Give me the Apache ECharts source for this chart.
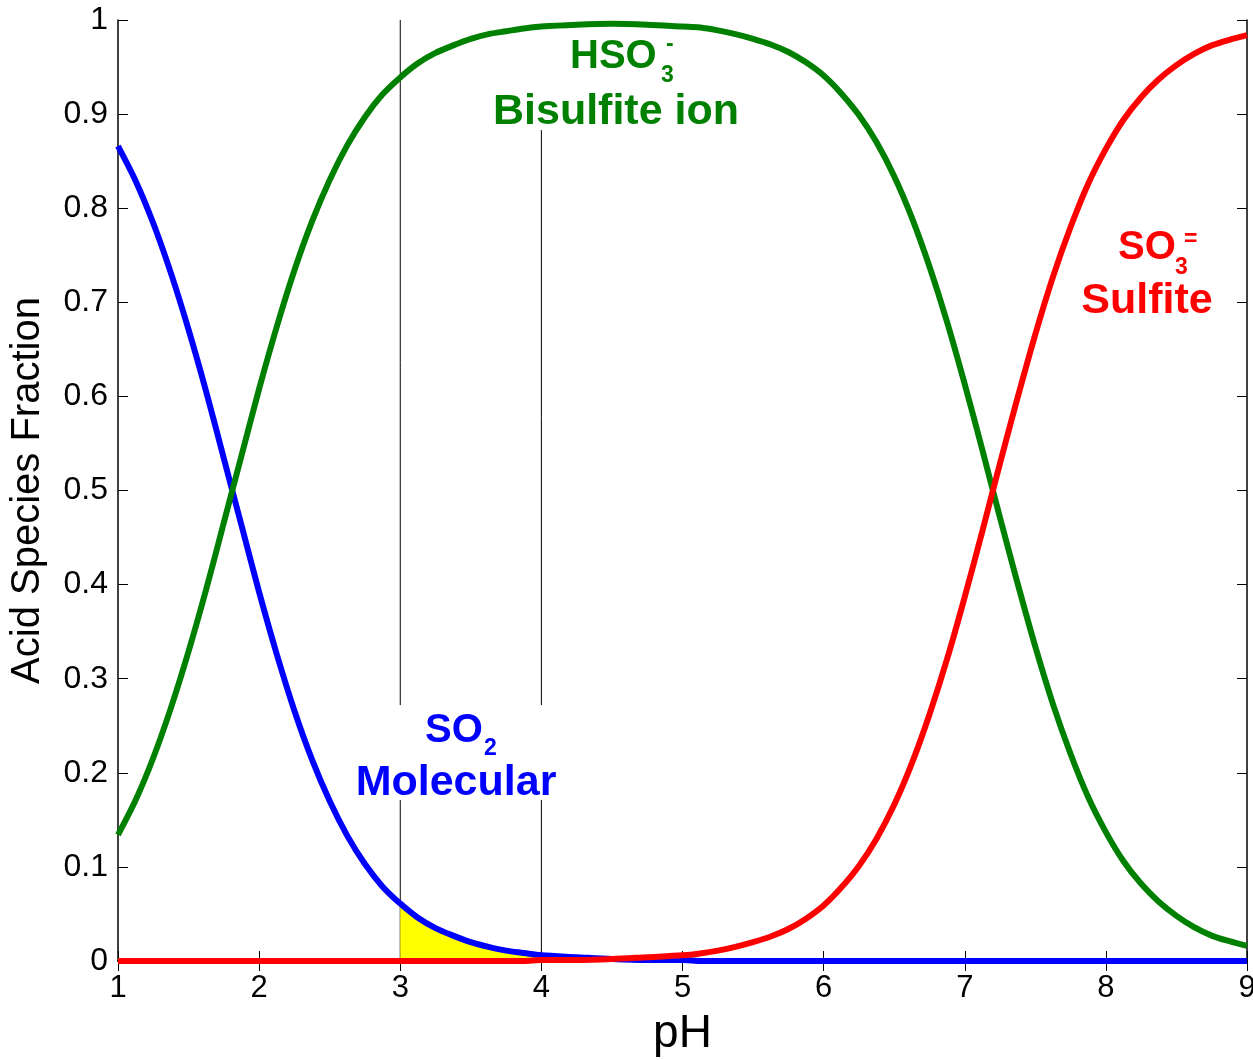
<!DOCTYPE html>
<html>
<head>
<meta charset="utf-8">
<script src="https://cdn.jsdelivr.net/npm/echarts@6/dist/echarts.min.js"></script>
<style>
  html, body { margin:0; padding:0; background:#fff; }
  #chart { width:1253px; height:1060px; }
</style>
</head>
<body>
<div id="chart"></div>
<script>
// pH samples (denser where the curves bend)
const PH = [1,1.125,1.25,1.375,1.5,1.625,1.75,1.875,2,2.125,2.25,2.375,2.5,2.625,2.75,2.875,3,3.125,3.25,3.375,3.5,3.625,3.75,3.875,4,
            4.25,4.5,4.75,
            5,5.125,5.25,5.375,5.5,5.625,5.75,5.875,6,6.125,6.25,6.375,6.5,6.625,6.75,6.875,7,7.125,7.25,7.375,7.5,7.625,7.75,7.875,8,8.125,8.25,8.375,8.5,8.625,8.75,8.875,9];
const SO2  = [0.866,0.829,0.784,0.731,0.671,0.605,0.534,0.463,0.392,0.326,0.266,0.214,0.170,0.133,0.103,0.079,0.061,0.046,0.035,0.027,0.020,0.015,0.011,0.0085,0.006,
              0.004,0.002,0.001,
              0.001,0,0,0,0,0,0,0,0,0,0,0,0,0,0,0,0,0,0,0,0,0,0,0,0,0,0,0,0,0,0,0,0];
const HSO3 = [0.134,0.171,0.216,0.269,0.329,0.395,0.466,0.537,0.608,0.674,0.734,0.786,0.830,0.867,0.897,0.921,0.939,0.954,0.965,0.973,0.980,0.985,0.988,0.991,0.993,
              0.995,0.996,0.995,
              0.993,0.992,0.989,0.985,0.980,0.974,0.966,0.955,0.941,0.922,0.899,0.870,0.834,0.790,0.738,0.679,0.613,0.543,0.471,0.401,0.334,0.273,0.220,0.174,0.137,0.106,0.082,0.063,0.048,0.036,0.027,0.021,0.016];
const SO3  = [0,0,0,0,0,0,0,0,0,0,0,0,0,0,0,0,0,0,0,0,0,0,0,0,0.001,
              0.001,0.002,0.004,
              0.006,0.008,0.011,0.015,0.020,0.026,0.034,0.045,0.059,0.078,0.101,0.130,0.166,0.210,0.262,0.321,0.387,0.457,0.529,0.599,0.666,0.727,0.780,0.826,0.863,0.894,0.918,0.937,0.952,0.964,0.973,0.979,0.984];

// shaded part under SO2 between pH 3 and 4
const FILL_FROM = 3, FILL_TO = 4;

// vertical guide lines (broken where the labels sit)
const GUIDES = [
  [[3,0],[3,0.171]], [[3,0.272],[3,1]],
  [[4,0],[4,0.171]], [[4,0.272],[4,0.883]]
];

const X_TICKS = { min:1, max:9, step:1 };
const Y_TICKS = { min:0, max:1, step:0.1 };

const FONT = "Liberation Sans, Arial, sans-serif";

function pairs(ys){ return PH.map((x,i)=>[x, ys[i]]); }

function initChart(){
  const el = document.getElementById("chart");
  const chart = echarts.init(el);

  const fillData = pairs(SO2).filter(p=> p[0]>=FILL_FROM && p[0]<=FILL_TO);

  const guideSeries = GUIDES.map(seg=>({
    type:"line", data:seg, symbol:"none", silent:true, z:1,
    lineStyle:{ color:"#000", width:1 }
  }));

  const curve = (name, ys, color, z)=>({
    name, type:"line", data:pairs(ys), symbol:"none", smooth:0.3, z,
    lineStyle:{ color, width:6 }
  });

  const axisCommon = {
    type:"value",
    axisLine:{ show:true, lineStyle:{ color:"#000", width:1.5 } },
    axisTick:{ show:true, inside:true, length:10, lineStyle:{ color:"#000", width:1 } },
    splitLine:{ show:false }
  };

  const big = (c, s)=>({ fill:c, fontFamily:FONT, fontWeight:"bold", fontSize:s||40 });
  const small = (c)=>({ fill:c, fontFamily:FONT, fontWeight:"bold", fontSize:23 });
  const txt = (x, y, text, style, align)=>({
    type:"text", x, y, z:100,
    style:Object.assign({ text, align:align||"left", verticalAlign:"middle" }, style)
  });

  const G = "#008000", R = "#ff0000", B = "#0000ff";

  chart.setOption({
    animation:false,
    grid:{ left:118, right:6, top:20, bottom:99, outerBoundsMode:"none" },
    xAxis:[
      Object.assign({}, axisCommon, {
        min:X_TICKS.min, max:X_TICKS.max, interval:X_TICKS.step,
        name:"pH", nameLocation:"middle", nameGap:50,
        nameTextStyle:{ fontFamily:FONT, fontSize:46, color:"#000" },
        axisLabel:{ fontFamily:FONT, fontSize:31, color:"#000", margin:12 }
      }),
      Object.assign({}, axisCommon, {
        position:"top", min:X_TICKS.min, max:X_TICKS.max, interval:X_TICKS.step,
        axisLabel:{ show:false }
      })
    ],
    yAxis:[
      Object.assign({}, axisCommon, {
        min:Y_TICKS.min, max:Y_TICKS.max, interval:Y_TICKS.step,
        name:"Acid Species Fraction", nameLocation:"middle", nameGap:70,
        nameTextStyle:{ fontFamily:FONT, fontSize:40, color:"#000" },
        axisLabel:{ fontFamily:FONT, fontSize:32, color:"#000", margin:10 }
      }),
      Object.assign({}, axisCommon, {
        position:"right", min:Y_TICKS.min, max:Y_TICKS.max, interval:Y_TICKS.step,
        axisLabel:{ show:false }
      })
    ],
    series:[
      ...guideSeries,
      {
        type:"line", data:fillData, symbol:"none", smooth:0.3, z:2, silent:true,
        lineStyle:{ width:0 }, areaStyle:{ color:"#ffff00", opacity:1 }
      },
      curve("SO2", SO2, B, 3),
      curve("HSO3", HSO3, G, 4),
      curve("SO3", SO3, R, 5)
    ],
    graphic:[
      txt(570, 57, "HSO", big(G)),
      txt(661, 76, "3", small(G)),
      txt(666, 45, "-", small(G)),
      txt(616, 112, "Bisulfite ion", big(G, 43), "center"),
      txt(1118, 248, "SO", big(R)),
      txt(1175, 268, "3", small(R)),
      txt(1184, 240, "=", small(R)),
      txt(1147, 301, "Sulfite", big(R, 43), "center"),
      txt(425, 731, "SO", big(B)),
      txt(484, 749, "2", small(B)),
      txt(456, 783, "Molecular", big(B, 43), "center")
    ]
  });

  window.addEventListener("resize", ()=> chart.resize());
}

document.addEventListener("DOMContentLoaded", initChart);
</script>
</body>
</html>
